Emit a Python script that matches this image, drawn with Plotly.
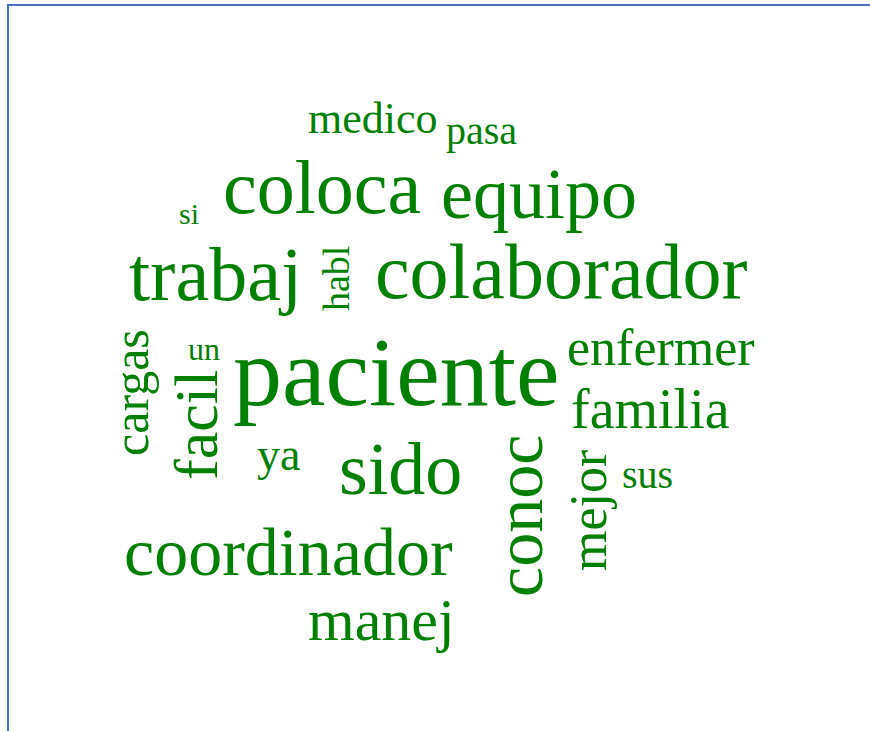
import plotly.graph_objects as go

# ---- data ----
words = ["paciente", "colaborador", "coloca", "trabaj", "sido", "equipo",
         "conoc", "coordinador", "facil", "manej", "familia", "enfermer",
         "mejor", "cargas", "ya", "medico", "pasa", "sus", "habl", "un", "si"]
freqs = [49, 39, 38, 38, 37, 36, 34, 34, 31, 30, 28, 26, 26, 25, 23, 22, 20, 20, 19, 16, 15]

# ---- layout of the cloud (pixel centres, rotation) ----
pos_x = [396, 561, 322, 215, 400, 539, 519, 288, 196, 381, 650, 661, 588, 131, 278, 373, 481, 647, 336, 204, 189]
pos_y = [372, 271, 187, 274, 469, 194, 516, 552, 425, 620, 409, 347, 511, 393, 454, 118, 130, 474, 279, 349, 213]
rot =   [0, 0, 0, 0, 0, 0, -90, 0, -90, 0, 0, 0, -90, -90, 0, 0, 0, 0, -90, 0, 0]

SIZE_PER_COUNT = 2.0
GREEN = "#008000"

W, H = 870, 731
fig = go.Figure()
fig.add_trace(go.Scatter(x=[0, W], y=[0, H], mode="markers",
                         marker=dict(opacity=0), hoverinfo="skip", showlegend=False))

annotations = []
for w, f, x, y, r in zip(words, freqs, pos_x, pos_y, rot):
    annotations.append(dict(
        x=x, y=y, xref="x", yref="y", text=w, showarrow=False,
        textangle=r, xanchor="center", yanchor="middle",
        font=dict(family="Liberation Serif, Times New Roman, serif",
                  size=f * SIZE_PER_COUNT, color=GREEN)))

fig.update_layout(
    width=W, height=H,
    margin=dict(l=0, r=0, t=0, b=0),
    paper_bgcolor="white", plot_bgcolor="white",
    xaxis=dict(range=[0, W], visible=False, fixedrange=True),
    yaxis=dict(range=[H, 0], visible=False, fixedrange=True),
    annotations=annotations,
    showlegend=False,
    shapes=[dict(type="path", path=f"M 8 {H+5} L 8 5 L {W+5} 5",
                 xref="x", yref="y", line=dict(color="#4472C4", width=2))],
)

fig.write_html("out.html", config={"displayModeBar": False},
               post_script="document.body.style.margin='0';document.body.style.overflow='hidden';")
